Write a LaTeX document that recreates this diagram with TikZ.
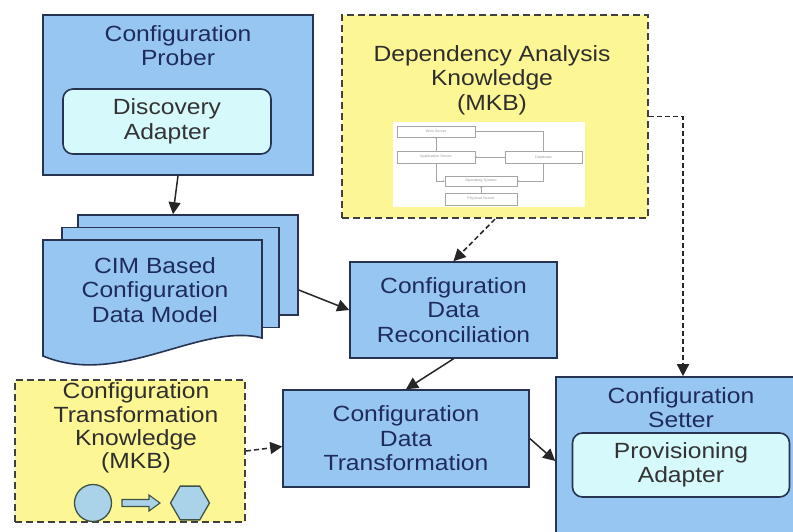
\documentclass[tikz,border=0pt]{standalone}
\usepackage{fontspec}
\setmainfont{Liberation Sans}[FakeStretch=1.12]
\usetikzlibrary{arrows.meta,positioning,shapes.geometric}
\definecolor{BoxBlue}{RGB}{152,198,243}
\definecolor{AdapterCyan}{RGB}{214,249,252}
\definecolor{NoteYellow}{RGB}{252,247,148}
\definecolor{EdgeNavy}{RGB}{38,52,82}
\definecolor{TextNavy}{RGB}{30,44,92}
\definecolor{ShapeBlue}{RGB}{170,210,232}
\definecolor{ShapeEdge}{RGB}{62,82,72}
\tikzset{
  compbox/.style={draw=EdgeNavy,fill=BoxBlue,line width=1.6pt,inner sep=0pt,
    text=TextNavy,align=center},
  adapter/.style={draw=EdgeNavy,fill=AdapterCyan,rounded corners=10pt,
    line width=1.6pt,inner sep=0pt,text=black!80,align=center},
  kbox/.style={draw=black!75,fill=NoteYellow,line width=2.2pt,inner sep=0pt,
    dash pattern=on 7pt off 4pt},
  boxtitle/.style={text=TextNavy,align=center,inner sep=0pt},
  notetitle/.style={text=black!82,align=center,inner sep=0pt},
  pagebox/.style={draw=EdgeNavy,fill=BoxBlue,line width=1.6pt,inner sep=0pt},
  flow/.style={-{Triangle[length=12pt,width=12pt]},line width=1.5pt,black!85},
  dflow/.style={flow,dash pattern=on 5pt off 3pt},
  minibox/.style={draw=gray!70,line width=0.4pt,inner sep=0pt,
    font=\fontsize{3.5}{4}\selectfont,text=gray!80},
  minilink/.style={-{Stealth[length=2pt]},draw=gray!70,line width=0.4pt},
  mapshape/.style={draw=ShapeEdge,fill=ShapeBlue,line width=1.3pt,inner sep=0pt}
}

\begin{document}
\begin{tikzpicture}[x=1pt,y=-1pt,font=\fontsize{22}{24.5}\selectfont]
  \useasboundingbox (0,0) rectangle (793,532);
  \clip (0,0) rectangle (793,532);

  % prober with its discovery adapter
  \node[compbox,minimum width=270,minimum height=160] (prober) at (178,95) {};
  \node[boxtitle] (probertitle) at (178,45.5) {Configuration\\Prober};
  \node[adapter,minimum width=208,minimum height=65] (discovery) at (167,121.5)
    {Discovery\\Adapter};

  % stacked data model pages
  \node[pagebox,minimum width=220,minimum height=100] (page3) at (188,265) {};
  \node[pagebox,minimum width=217,minimum height=100] (page2) at (170.5,277.5) {};
  \draw[pagebox] (43,240) -- (262,240) -- (262,338)
    .. controls (200,322) and (120,388) .. (43,356) -- cycle;
  \node[boxtitle] (model) at (155,290) {CIM Based\\Configuration\\Data Model};

  % dependency knowledge with its small diagram
  \node[kbox,minimum width=306,minimum height=203] (depend) at (495,116.5) {};
  \node[notetitle] (dependtitle) at (492,80) {Dependency Analysis\\Knowledge\\(MKB)};
  \node[fill=white,minimum width=192,minimum height=85,inner sep=0pt] (deppic)
    at (489,164.5) {};
  \node[minibox,minimum width=78,minimum height=11] (ws) at (436,131.5) {Web Server};
  \node[minibox,minimum width=78,minimum height=12] (as) at (436,157) {Application Server};
  \node[minibox,minimum width=77,minimum height=12] (db) at (543.5,157) {Database};
  \node[minibox,minimum width=72,minimum height=10] (os) at (481,181) {Operating System};
  \node[minibox,minimum width=72,minimum height=12] (ps) at (481,199) {Physical Server};
  \draw[minilink] (db.north) |- (ws.east);
  \draw[minilink] (as.north) -- (ws.south);
  \draw[minilink] (db.west) -- (as.east);
  \draw[minilink] (as.south) |- (os.west);
  \draw[minilink] (db.south) |- (os.east);
  \draw[minilink] (ps.north) -- (os.south);

  \node[compbox,minimum width=207,minimum height=96] (recon) at (453.5,310)
    {Configuration\\Data\\Reconciliation};
  \node[compbox,minimum width=246,minimum height=97] (trans) at (406,438.5)
    {Configuration\\Data\\Transformation};

  % setter with its provisioning adapter
  \node[compbox,minimum width=254,minimum height=168] (setter) at (683,461) {};
  \node[boxtitle] (settertitle) at (681,407.5) {Configuration\\Setter};
  \node[adapter,minimum width=217,minimum height=64] (provision) at (681,465)
    {Provisioning\\Adapter};

  % transformation knowledge
  \node[kbox,minimum width=230,minimum height=142] (know) at (130,451) {};
  \node[notetitle,font=\fontsize{22}{23.3}\selectfont] (knowtitle) at (136,428)
    {Configuration\\Transformation\\Knowledge\\(MKB)};
  \node[mapshape,circle,minimum size=37] (srcshape) at (93,503) {};
  \node[mapshape,regular polygon,regular polygon sides=6,minimum size=39]
    (dstshape) at (190,503) {};
  \draw[mapshape,line width=1.1pt] (122,499.5) -- (149,499.5) -- (149,495)
    -- (160,503) -- (149,511) -- (149,506.5) -- (122,506.5) -- cycle;

  % connectors
  \draw[flow] (prober.south) -- ([xshift=-15pt]page3.north);
  \draw[flow] (page3.east |- model.center) -- (recon.west);
  \draw[dflow] (depend.south) -- (recon.north);
  \draw[flow] (recon.south) -- (trans.north);
  \draw[flow] (trans.east) -- (setter.west);
  \draw[dflow] (depend.east) -| (setter.north);
  \draw[dflow] (know.east) -- ([yshift=-8pt]trans.west);
\end{tikzpicture}
\end{document}
